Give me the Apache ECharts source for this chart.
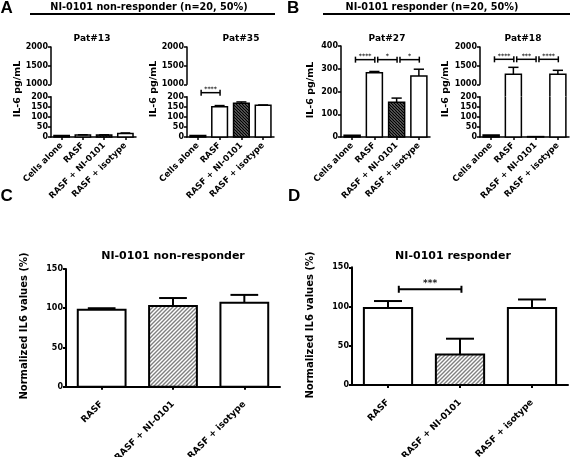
<!DOCTYPE html>
<html><head><meta charset="utf-8">
<script src="https://cdn.jsdelivr.net/npm/echarts@6/dist/echarts.min.js"></script>
<style>html,body{margin:0;padding:0;background:#fff}#c{width:570px;height:457px}</style>
</head><body><div id="c"></div>
<script>
// ---------------- data ----------------
const groupsTop = ['Cells alone', 'RASF', 'RASF + NI-0101', 'RASF + isotype'];
const groupsNorm = ['RASF', 'RASF + NI-0101', 'RASF + isotype'];

const pat13Values = [8, 10, 10, 17];
const pat13Errors = [0, 1, 1, 3];
const pat35Values = [8, 150, 168, 157];
const pat35Errors = [0, 6, 6, 2];
const pat27Values = [8, 282, 153, 268];
const pat27Errors = [0, 6, 18, 30];
const pat18Values = [10, 1270, 2, 1270];
const pat18Errors = [0, 185, 0, 105];

const nonResponderValues = [98, 103, 107];
const nonResponderErrors = [2, 10, 10];
const responderValues = [98, 39, 98];
const responderErrors = [9, 20, 11];

// significance brackets: [fromIndex, toIndex, level, stars]
const pat35Sig = [[0, 1, 220, '****']];
const pat27Sig = [[0, 1, 340, '****'], [1, 2, 340, '*'], [2, 3, 340, '*']];
const pat18Sig = [[0, 1, 1670, '****'], [1, 2, 1670, '***'], [2, 3, 1670, '****']];
const responderSig = [[0, 1, 122, '***']];

// axis ranges: [min, max, interval]
const lowRange = [0, 200, 50];
const highRange = [1000, 2000, 500];
const pat27Range = [0, 400, 100];
const normRange = [0, 150, 50];

// ---------------- helpers ----------------
const DV = 'DejaVu Sans';
function makeHatch(size, lw, color, dir) {
  const c = document.createElement('canvas');
  c.width = size; c.height = size;
  const g = c.getContext('2d');
  g.fillStyle = '#fff'; g.fillRect(0, 0, size, size);
  g.strokeStyle = color; g.lineWidth = lw;
  g.beginPath();
  if (dir === '/') {
    g.moveTo(-1, size + 1); g.lineTo(size + 1, -1);
    g.moveTo(-1, 1); g.lineTo(1, -1);
    g.moveTo(size - 1, size + 1); g.lineTo(size + 1, size - 1);
  } else {
    g.moveTo(-1, -1); g.lineTo(size + 1, size + 1);
    g.moveTo(size - 1, -1); g.lineTo(size + 1, 1);
    g.moveTo(-1, size - 1); g.lineTo(1, size + 1);
  }
  g.stroke();
  return c;
}
const hatchDark = { image: makeHatch(3, 1.6, '#000', '\\'), repeat: 'repeat' };
const hatchGray = { image: makeHatch(4, 1.4, '#808080', '/'), repeat: 'repeat' };
const topFills = ['#000', '#fff', hatchDark, '#fff'];
const normFills = ['#fff', hatchGray, '#fff'];

// layout of grids (px)
const UP_TOP = 47, UP_BOT = 84.3, LOW_TOP = 96.7, LOW_BOT = 137;
const GAP = LOW_TOP - UP_BOT;
const gridDefs = [
  { left: 51, top: UP_TOP, width: 85, height: UP_BOT - UP_TOP },     // 0 Pat13 up
  { left: 51, top: LOW_TOP, width: 85, height: LOW_BOT - LOW_TOP },  // 1 Pat13 low
  { left: 187, top: UP_TOP, width: 87, height: UP_BOT - UP_TOP },    // 2 Pat35 up
  { left: 187, top: LOW_TOP, width: 87, height: LOW_BOT - LOW_TOP }, // 3 Pat35 low
  { left: 341, top: 46, width: 89, height: 91 },                     // 4 Pat27
  { left: 480, top: UP_TOP, width: 89, height: UP_BOT - UP_TOP },    // 5 Pat18 up
  { left: 480, top: LOW_TOP, width: 89, height: LOW_BOT - LOW_TOP }, // 6 Pat18 low
  { left: 66, top: 269, width: 214, height: 117.7 },                 // 7 C
  { left: 352, top: 267.3, width: 216, height: 117.7 }               // 8 D
];

function barRenderer(opts) {
  return function (params, api) {
    const i = api.value(0), v = api.value(1), e = api.value(2);
    const cs = params.coordSys;
    const band = api.size([1, 0])[0];
    const bw = band * opts.ratio;
    const base = api.coord([i, 0]);
    const cx = base[0], xl = cx - bw / 2, xr = cx + bw / 2;
    const fill = opts.fills[i];
    const st = { stroke: '#000', lineWidth: opts.lw, fill: null };
    const kids = [];
    const tall = v > opts.lowMax;
    let yTop = null;
    if (opts.part === 'low') {
      const y0 = base[1];
      if (!tall) {
        yTop = api.coord([i, v])[1];
        kids.push({ type: 'rect', shape: { x: xl, y: yTop, width: bw, height: y0 - yTop }, style: { fill: fill, stroke: '#000', lineWidth: opts.lw } });
      } else {
        const yt = cs.y;
        kids.push({ type: 'rect', shape: { x: xl, y: yt, width: bw, height: y0 - yt }, style: { fill: fill, stroke: null } });
        kids.push({ type: 'polyline', shape: { points: [[xl, yt], [xl, y0], [xr, y0], [xr, yt]] }, style: st });
      }
    } else {
      if (!tall) return { type: 'group', children: [] };
      const yb = cs.y + cs.height + opts.gap;
      yTop = api.coord([i, v])[1];
      kids.push({ type: 'rect', shape: { x: xl, y: yTop, width: bw, height: yb - yTop }, style: { fill: fill, stroke: null } });
      kids.push({ type: 'polyline', shape: { points: [[xl, yb], [xl, yTop], [xr, yTop], [xr, yb]] }, style: st });
    }
    if (yTop !== null && e > 0) {
      const ye = api.coord([i, v + e])[1];
      const hc = bw * opts.cap;
      kids.push({ type: 'line', shape: { x1: cx, y1: yTop, x2: cx, y2: ye }, style: st });
      kids.push({ type: 'line', shape: { x1: cx - hc, y1: ye, x2: cx + hc, y2: ye }, style: st });
    }
    return { type: 'group', children: kids };
  };
}

function sigRenderer(sig, fontSize, tickH, lw, textGap) {
  return function (params, api) {
    const s = sig[params.dataIndex];
    const band = api.size([1, 0])[0];
    const p1 = api.coord([s[0], s[2]]), p2 = api.coord([s[1], s[2]]);
    const x1 = p1[0] + band * 0.15, x2 = p2[0] + band * 0.02, y = p1[1];
    const st = { stroke: '#000', lineWidth: lw };
    return { type: 'group', children: [
      { type: 'line', shape: { x1: x1, y1: y, x2: x2, y2: y }, style: st },
      { type: 'line', shape: { x1: x1, y1: y - tickH, x2: x1, y2: y + tickH }, style: st },
      { type: 'line', shape: { x1: x2, y1: y - tickH, x2: x2, y2: y + tickH }, style: st },
      { type: 'text', style: { text: s[3], x: (x1 + x2) / 2, y: y + textGap, align: 'center', verticalAlign: 'middle', textAlign: 'center', textVerticalAlign: 'middle', font: 'bold ' + fontSize + 'px "' + DV + '"', fill: '#222' } }
    ] };
  };
}

function yAx(grid, r, lw) {
  return { type: 'value', gridIndex: grid, min: r[0], max: r[1], interval: r[2],
    axisLine: { show: true, lineStyle: { color: '#000', width: lw } },
    axisTick: { show: true, length: 3, lineStyle: { color: '#000', width: lw } },
    axisLabel: { color: '#000', fontSize: 8, fontWeight: 'bold', fontFamily: DV, margin: 3, formatter: v => String(v) },
    splitLine: { show: false } };
}
function xAx(grid, cats, show, fontSize, margin, lw) {
  return { type: 'category', gridIndex: grid, data: cats, show: show,
    axisLine: { show: true, onZero: false, lineStyle: { color: '#000', width: lw } },
    axisTick: { show: true, alignWithLabel: true, length: 3, lineStyle: { color: '#000', width: lw } },
    axisLabel: { rotate: 45, interval: 0, color: '#000', fontSize: fontSize, fontWeight: 'bold', fontFamily: DV, margin: margin },
    splitLine: { show: false } };
}
const toData = (vals, errs) => vals.map((v, i) => [i, v, errs[i]]);
const sigData = sig => sig.map(s => [s[0], s[2]]);

const xAxes = [
  xAx(0, groupsTop, false, 8.5, 7, 1.5), xAx(1, groupsTop, true, 8.5, 7, 1.5),
  xAx(2, groupsTop, false, 8.5, 7, 1.5), xAx(3, groupsTop, true, 8.5, 7, 1.5),
  xAx(4, groupsTop, true, 8.5, 7, 1.5),
  xAx(5, groupsTop, false, 8.5, 7, 1.5), xAx(6, groupsTop, true, 8.5, 7, 1.5),
  xAx(7, groupsNorm, true, 9, 16, 2), xAx(8, groupsNorm, true, 9, 16, 2)
];
const yAxes = [
  yAx(0, highRange, 1.5), yAx(1, lowRange, 1.5),
  yAx(2, highRange, 1.5), yAx(3, lowRange, 1.5),
  yAx(4, pat27Range, 1.5),
  yAx(5, highRange, 1.5), yAx(6, lowRange, 1.5),
  yAx(7, normRange, 2), yAx(8, normRange, 2)
];

const topOpt = (part) => ({ fills: topFills, part: part, lowMax: lowRange[1], gap: GAP, ratio: 0.72, lw: 1.5, cap: 0.32 });
const series = [];
function addCustom(idx, data, render) {
  series.push({ type: 'custom', xAxisIndex: idx, yAxisIndex: idx, data: data, renderItem: render, clip: false, silent: true });
}
addCustom(0, toData(pat13Values, pat13Errors), barRenderer(topOpt('up')));
addCustom(1, toData(pat13Values, pat13Errors), barRenderer(topOpt('low')));
addCustom(2, toData(pat35Values, pat35Errors), barRenderer(topOpt('up')));
addCustom(3, toData(pat35Values, pat35Errors), barRenderer(topOpt('low')));
addCustom(3, sigData(pat35Sig), sigRenderer(pat35Sig, 6, 3, 1.5, -3));
addCustom(4, toData(pat27Values, pat27Errors), barRenderer({ fills: topFills, part: 'low', lowMax: Infinity, gap: 0, ratio: 0.72, lw: 1.5, cap: 0.32 }));
addCustom(4, sigData(pat27Sig), sigRenderer(pat27Sig, 6, 3, 1.5, -3));
addCustom(5, toData(pat18Values, pat18Errors), barRenderer(topOpt('up')));
addCustom(6, toData(pat18Values, pat18Errors), barRenderer(topOpt('low')));
addCustom(5, sigData(pat18Sig), sigRenderer(pat18Sig, 6, 3, 1.5, -3));
addCustom(7, toData(nonResponderValues, nonResponderErrors), barRenderer({ fills: normFills, part: 'low', lowMax: Infinity, gap: 0, ratio: 0.67, lw: 2, cap: 0.29 }));
addCustom(8, toData(responderValues, responderErrors), barRenderer({ fills: normFills, part: 'low', lowMax: Infinity, gap: 0, ratio: 0.67, lw: 2, cap: 0.29 }));
addCustom(8, sigData(responderSig), sigRenderer(responderSig, 9, 3.5, 2, -6));

function txt(text, x, y, font, rot, align) {
  return { type: 'text', x: x, y: y, rotation: rot || 0, silent: true,
    style: { text: text, font: font, fill: '#000', align: align || 'center', verticalAlign: 'middle', textAlign: align || 'center', textVerticalAlign: 'middle' } };
}
const f = (s, fam) => 'bold ' + s + 'px "' + (fam || DV) + '"';
const R90 = Math.PI / 2;
const graphics = [
  txt('A', 0.5, 8, f(17, 'Liberation Sans'), 0, 'left'),
  txt('B', 287, 8, f(17, 'Liberation Sans'), 0, 'left'),
  txt('C', 0.5, 196, f(17, 'Liberation Sans'), 0, 'left'),
  txt('D', 288, 196, f(17, 'Liberation Sans'), 0, 'left'),
  txt('NI-0101 non-responder (n=20, 50%)', 149, 7.5, f(9.7)),
  txt('NI-0101 responder (n=20, 50%)', 432, 7.5, f(9.7)),
  { type: 'line', silent: true, shape: { x1: 30, y1: 14, x2: 275, y2: 14 }, style: { stroke: '#000', lineWidth: 2 } },
  { type: 'line', silent: true, shape: { x1: 323, y1: 14, x2: 570, y2: 14 }, style: { stroke: '#000', lineWidth: 2 } },
  txt('Pat#13', 92, 38.5, f(9)),
  txt('Pat#35', 241, 38.5, f(9)),
  txt('Pat#27', 387, 38.5, f(9)),
  txt('Pat#18', 523, 38.5, f(9)),
  txt('IL-6 pg/mL', 17.5, 89, f(9.5), R90),
  txt('IL-6 pg/mL', 154, 89, f(9.5), R90),
  txt('IL-6 pg/mL', 311, 90, f(9.5), R90),
  txt('IL-6 pg/mL', 446, 89, f(9.5), R90),
  txt('NI-0101 non-responder', 173, 256, f(11)),
  txt('NI-0101 responder', 453, 256, f(11)),
  txt('Normalized IL6 values (%)', 24, 326, f(10), R90),
  txt('Normalized IL6 values (%)', 310, 325, f(10), R90)
];

const chart = echarts.init(document.getElementById('c'), null, { renderer: 'canvas', width: 570, height: 457 });
chart.setOption({
  animation: false,
  backgroundColor: '#fff',
  grid: gridDefs.map(g => Object.assign({ containLabel: false, outerBoundsMode: 'none' }, g)),
  xAxis: xAxes,
  yAxis: yAxes,
  series: series,
  graphic: { elements: graphics }
});
</script></body></html>
